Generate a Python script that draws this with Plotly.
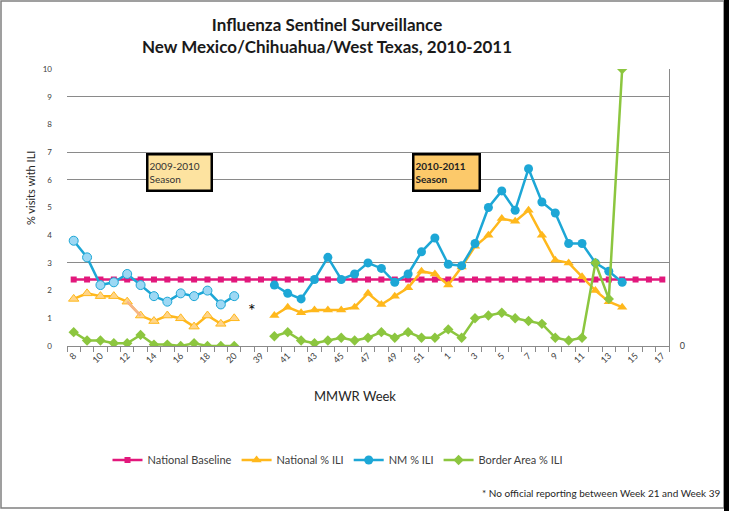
import plotly.graph_objects as go

# MMWR week categories (index 13 is the unreported gap marked with *)
weeks = ["8", "9", "10", "11", "12", "13", "14", "15", "16", "17", "18", "19", "20",
         "", "39",
         "40", "41", "42", "43", "44", "45", "46", "47", "48", "49", "50", "51", "52",
         "1", "2", "3", "4", "5", "6", "7", "8", "9", "10", "11", "12", "13", "14",
         "15", "16", "17"]

national_baseline = [2.4, 2.4, 2.4, 2.4, 2.4, 2.4, 2.4, 2.4, 2.4, 2.4, 2.4, 2.4, 2.4,
                     2.4, 2.4,
                     2.4, 2.4, 2.4, 2.4, 2.4, 2.4, 2.4, 2.4, 2.4, 2.4, 2.4, 2.4, 2.4,
                     2.4, 2.4, 2.4, 2.4, 2.4, 2.4, 2.4, 2.4, 2.4, 2.4, 2.4, 2.4, 2.4, 2.4,
                     2.4, 2.4, 2.4]

national_ili = [1.7, 1.9, 1.8, 1.8, 1.6, 1.1, 0.9, 1.1, 1.0, 0.7, 1.1, 0.8, 1.0,
                None, None,
                1.1, 1.4, 1.2, 1.3, 1.3, 1.3, 1.4, 1.9, 1.5, 1.8, 2.1, 2.7, 2.6,
                2.2, 2.85, 3.6, 4.0, 4.6, 4.5, 4.9, 4.0, 3.1, 3.0, 2.5, 2.0, 1.6, 1.4,
                None, None, None]

nm_ili = [3.8, 3.2, 2.2, 2.3, 2.6, 2.2, 1.8, 1.6, 1.9, 1.8, 2.0, 1.5, 1.8,
          None, None,
          2.2, 1.9, 1.7, 2.4, 3.2, 2.4, 2.6, 3.0, 2.8, 2.3, 2.6, 3.4, 3.9,
          2.95, 2.9, 3.7, 5.0, 5.6, 4.9, 6.4, 5.2, 4.8, 3.7, 3.7, 3.0, 2.7, 2.3,
          None, None, None]

border_ili = [0.5, 0.2, 0.2, 0.1, 0.1, 0.4, 0.05, 0.05, 0.0, 0.1, 0.0, 0.0, 0.0,
              None, None,
              0.35, 0.5, 0.2, 0.1, 0.2, 0.3, 0.2, 0.3, 0.5, 0.3, 0.5, 0.3, 0.3,
              0.6, 0.3, 1.0, 1.1, 1.2, 1.0, 0.9, 0.8, 0.3, 0.2, 0.3, 3.0, 1.7, 10.0,
              None, None, None]

PINK = "#E2187C"
ORANGE = "#FFB81C"
BLUE = "#1DA7D6"
GREEN = "#8CC63F"
FONT = "Lato"

idx = list(range(len(weeks)))
s1 = slice(0, 13)    # 2009-2010 season
s2 = slice(15, 45)   # 2010-2011 season

fig = go.Figure()

fig.add_trace(go.Scatter(x=idx, y=national_baseline, name="National Baseline",
                         mode="lines+markers", line=dict(color=PINK, width=2.5),
                         marker=dict(symbol="square", size=6, color=PINK)))

# National % ILI
fig.add_trace(go.Scatter(x=idx[s1], y=national_ili[s1], name="National % ILI", legendgroup="nat",
                         showlegend=False, mode="lines+markers", line=dict(color=ORANGE, width=2.5),
                         marker=dict(symbol="triangle-up", size=9, color="#FFD58A",
                                     line=dict(color=ORANGE, width=1))))
fig.add_trace(go.Scatter(x=idx[4:6], y=national_ili[4:6], showlegend=False, hoverinfo="skip",
                         mode="lines", line=dict(color="#F6B48A", width=2.5)))
fig.add_trace(go.Scatter(x=idx[s2], y=national_ili[s2], name="National % ILI", legendgroup="nat",
                         mode="lines+markers", line=dict(color=ORANGE, width=2.5),
                         marker=dict(symbol="triangle-up", size=9, color=ORANGE)))

# NM % ILI
fig.add_trace(go.Scatter(x=idx[s1], y=nm_ili[s1], name="NM % ILI", legendgroup="nm",
                         showlegend=False, mode="lines+markers", line=dict(color=BLUE, width=2.5),
                         marker=dict(symbol="circle", size=9, color="#9DD8F4",
                                     line=dict(color=BLUE, width=1))))
fig.add_trace(go.Scatter(x=idx[s2], y=nm_ili[s2], name="NM % ILI", legendgroup="nm",
                         mode="lines+markers", line=dict(color=BLUE, width=2.5),
                         marker=dict(symbol="circle", size=9, color=BLUE)))

# Border Area % ILI
fig.add_trace(go.Scatter(x=idx[s1], y=border_ili[s1], name="Border Area % ILI", legendgroup="bor",
                         showlegend=False, mode="lines+markers", line=dict(color=GREEN, width=2.5),
                         marker=dict(symbol="diamond", size=8, color=GREEN)))
fig.add_trace(go.Scatter(x=idx[s2], y=border_ili[s2], name="Border Area % ILI", legendgroup="bor",
                         mode="lines+markers", line=dict(color=GREEN, width=2.5),
                         marker=dict(symbol="diamond", size=8, color=GREEN)))

# right axis holds the odd gridlines and the lone "0"
fig.add_trace(go.Scatter(x=[idx[0]], y=[0], yaxis="y2", mode="markers", showlegend=False,
                         hoverinfo="skip", marker=dict(opacity=0)))

L, R, T, B = 67, 60, 69, 165
W, H = 729, 511
pw, ph = W - L - R, H - T - B

def px(xp):
    return (xp - L) / pw

def py(yp):
    return (H - B - yp) / ph

fig.update_layout(
    width=W, height=H,
    margin=dict(l=L, r=R, t=T, b=B),
    paper_bgcolor="white", plot_bgcolor="white",
    font=dict(family=FONT, color="#404040"),
    xaxis=dict(range=[-0.5, len(weeks) - 0.5], tickmode="array",
               tickvals=idx[::2], ticktext=weeks[::2], tickangle=-45,
               ticks="", showgrid=False, zeroline=False,
               showline=True, linecolor="#8a8a8a", linewidth=1,
               tickfont=dict(size=9, color="#404040"),
               minor=dict(tick0=-0.5, dtick=1, ticks="outside", ticklen=5,
                          tickcolor="#8a8a8a", showgrid=False)),
    yaxis=dict(range=[0, 10], tickvals=list(range(11)), showgrid=False, zeroline=False,
               showline=False, ticks="", ticklabelstandoff=14,
               tickfont=dict(size=8, color="#404040")),
    yaxis2=dict(range=[0, 10], overlaying="y", side="right", tickvals=[0, 3, 6, 7, 9, 10],
                ticktext=["0", "", "", "", "", ""], showgrid=True, gridcolor="#8a8a8a",
                gridwidth=1, zeroline=False, showline=True, linecolor="#8a8a8a",
                ticks="", ticklabelstandoff=8, tickfont=dict(size=9, color="#404040")),
    legend=dict(orientation="h", x=px(338), xanchor="center", y=py(460), yanchor="middle",
                font=dict(size=11, color="#404040"), itemwidth=30,
                bgcolor="rgba(0,0,0,0)"),
    showlegend=True,
)

fig.add_annotation(text="<b>Influenza Sentinel Surveillance<br>New Mexico/Chihuahua/West Texas, 2010-2011</b>",
                   xref="paper", yref="paper", x=px(327), y=py(35), xanchor="center", yanchor="middle",
                   showarrow=False, font=dict(size=17, color="#1a1a1a"))
fig.add_annotation(text="% visits with ILI", textangle=-90, xref="paper", yref="paper",
                   x=px(30), y=py(188), xanchor="center", yanchor="middle", showarrow=False,
                   font=dict(size=11, color="#262626"))
fig.add_annotation(text="MMWR Week", xref="paper", yref="paper", x=px(355), y=py(396),
                   xanchor="center", yanchor="middle", showarrow=False,
                   font=dict(size=13, color="#262626"))
fig.add_annotation(text="* No official reporting between Week 21 and Week 39", xref="paper",
                   yref="paper", x=px(722), y=py(493), xanchor="right", yanchor="middle",
                   showarrow=False, font=dict(size=10, color="#262626"))
fig.add_annotation(text="*", x=13.3, y=1.3, showarrow=False, font=dict(size=18, color="black"))
fig.add_annotation(text="2009-2010<br>Season", x=7.9, y=6.25, showarrow=False, align="left",
                   width=60, height=32, bgcolor="#FDE3A0", bordercolor="black", borderwidth=2.5,
                   font=dict(size=10, color="#333333"))
fig.add_annotation(text="<b>2010-2011<br>Season</b>", x=27.9, y=6.25, showarrow=False, align="left",
                   width=62, height=32, bgcolor="#FCC96A", bordercolor="black", borderwidth=2.5,
                   font=dict(size=10, color="#222222"))

# frame around the whole picture
fig.add_shape(type="rect", xref="paper", yref="paper", x0=px(1), x1=px(724), y0=py(508), y1=py(1),
              line=dict(color="#808080", width=1.5), layer="below")
fig.add_shape(type="rect", xref="paper", yref="paper", x0=px(724), x1=px(730), y0=py(512), y1=py(-1),
              fillcolor="black", line=dict(width=0))

fig.write_html("out.html", config={"displayModeBar": False},
               post_script="document.body.style.margin = '0';")
